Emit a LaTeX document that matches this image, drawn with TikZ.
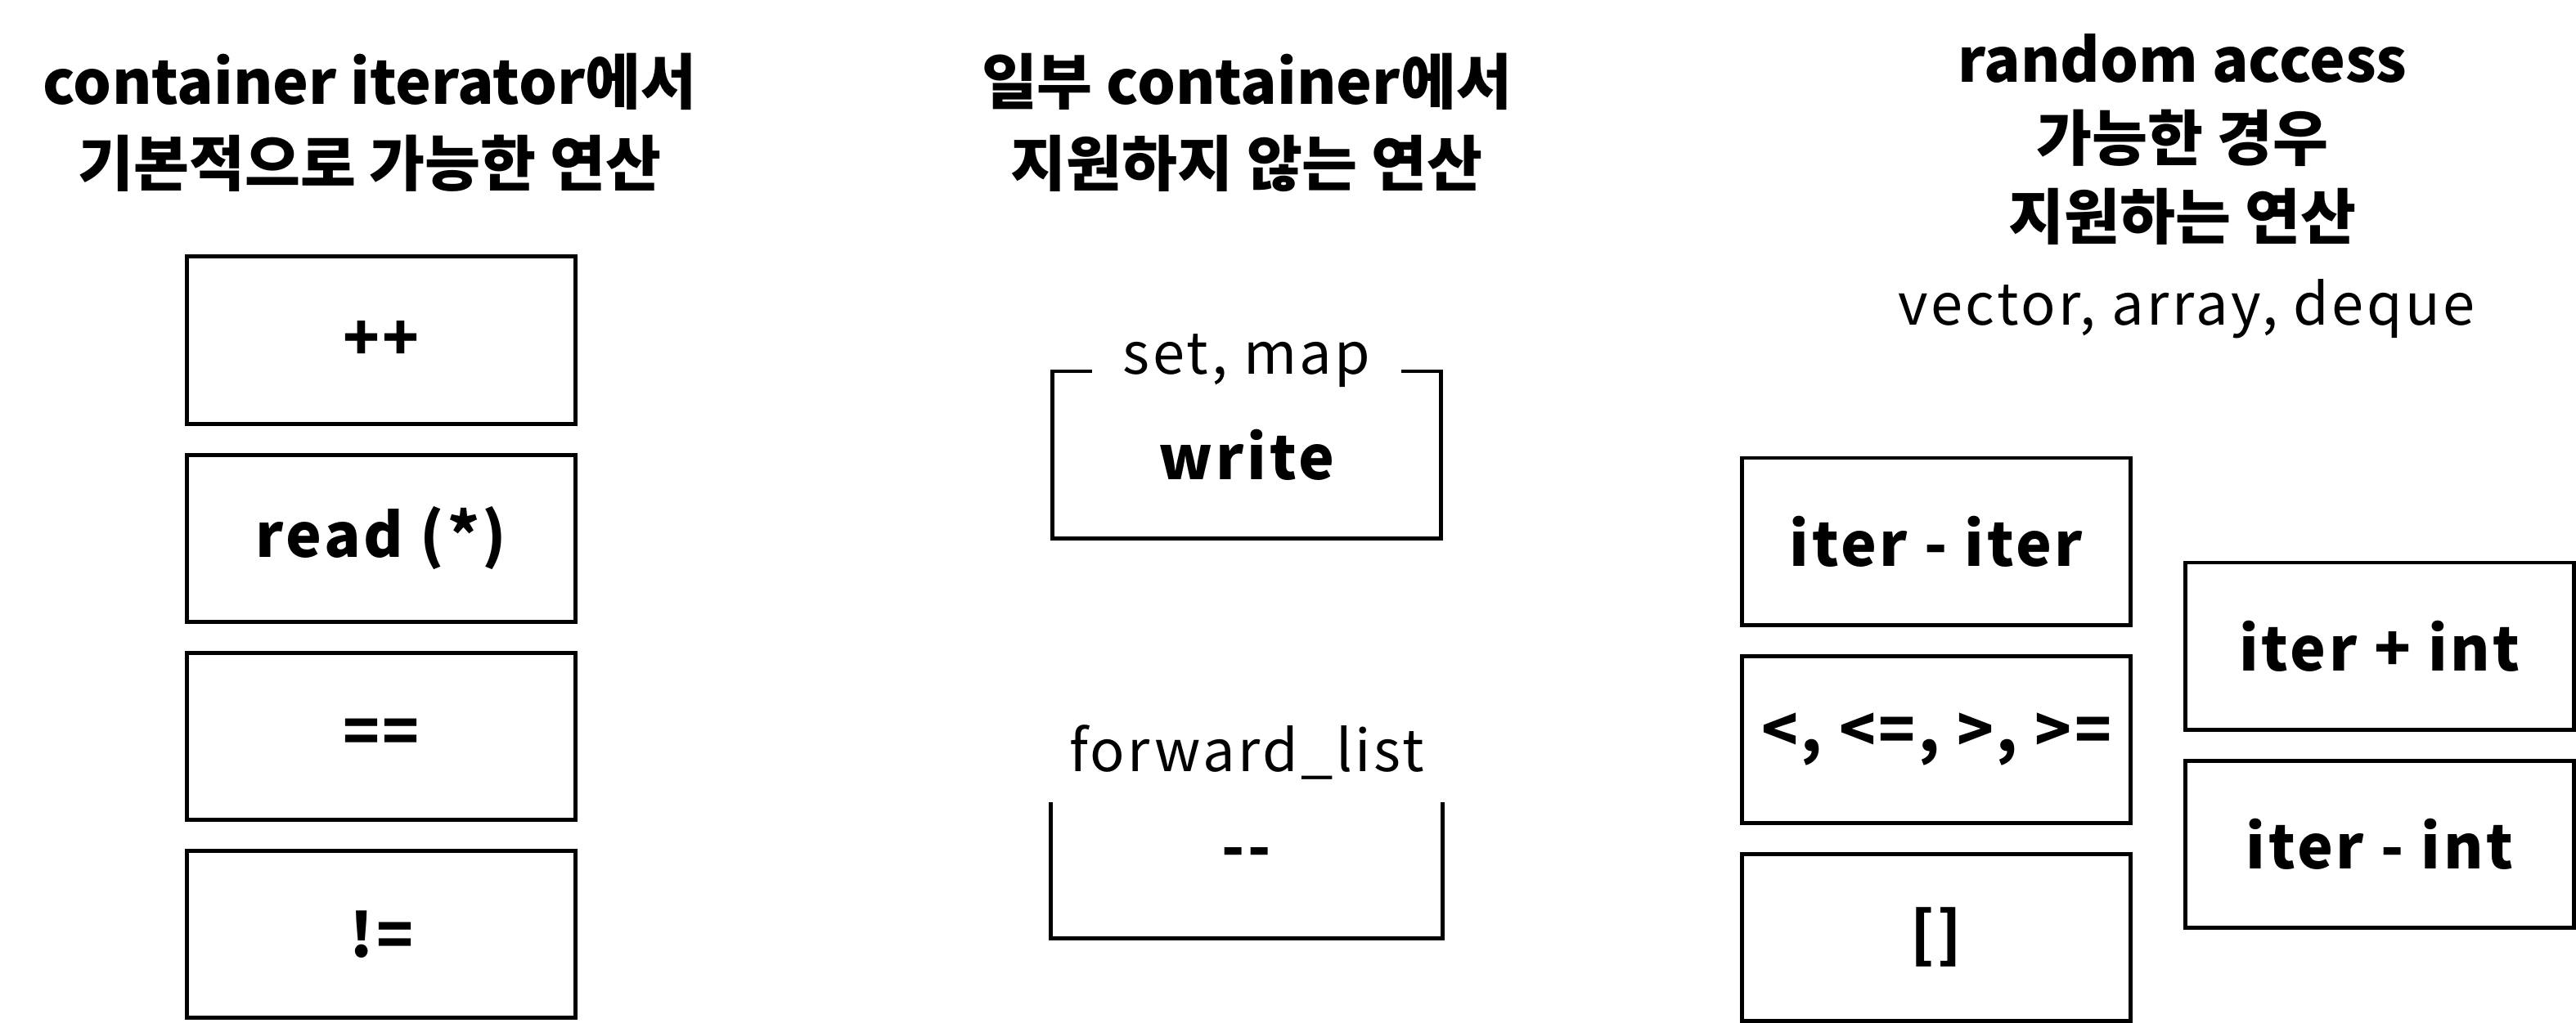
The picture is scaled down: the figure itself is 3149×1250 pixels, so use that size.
\documentclass[tikz,border=0pt]{standalone}
\usepackage{fontspec}
\setmainfont{Noto Sans CJK KR}
\newfontfamily\opfont[LetterSpace=5]{Noto Sans CJK KR}
\newfontfamily\tagfont[LetterSpace=5]{Noto Sans CJK KR}
\usetikzlibrary{positioning}
\tikzset{
	opbox/.style={draw, line width=1.4pt, minimum width=4.74cm, minimum height=2.04cm, inner sep=0pt},
	optext/.style={font=\opfont\bfseries\fontsize{21pt}{24pt}\selectfont},
	title/.style={align=center, font=\bfseries\fontsize{21pt}{28.5pt}\selectfont},
	tag/.style={font=\tagfont\fontsize{20pt}{24pt}\selectfont},
	frame/.style={line width=1.4pt}
}

\begin{document}
\begin{tikzpicture}[x=0.01cm, y=-0.01cm, node distance = 2.42cm]
	\useasboundingbox (0,0) rectangle (3149,1250);

	\node[title] (t1) at (452,150) {container iterator에서\\기본적으로 가능한 연산};
	\node[title] (t2) at (1524,150) {일부 container에서\\지원하지 않는 연산};
	\node[title, font=\bfseries\fontsize{21pt}{27.3pt}\selectfont] (t3) at (2668,170) {random access\\가능한 경우\\지원하는 연산};
	\node[tag] (vad) at (2673,378) {vector, array, deque};

	\node[opbox, optext] (inc) at (466,416) {++};
	\node[opbox, optext, below of = inc] (rd) {read (*)};
	\node[opbox, optext, below of = rd] (eq) {==};
	\node[opbox, optext, below of = eq] (ne) {!=};

	\node[opbox, optext] (wr) at (1524,556) {write};
	\node[tag, fill=white, inner xsep=0.38cm, inner ysep=0pt] (sm) at ([yshift=0.1cm]wr.north) {set, map};

	\node[opbox, draw=none, minimum height=1.61cm] (fl) at (1524,1064) {};
	\draw[frame] (fl.north west) -- (fl.south west) -- (fl.south east) -- (fl.north east);
	\node[optext] (dec) at ([yshift=0.15cm]fl.center) {-{}-};
	\node[tag] (fls) at (1524,920) {forward\_list};

	\node[opbox, optext] (sub) at (2367,662) {iter - iter};
	\node[opbox, optext, below of = sub] (cmp) {<, <=, >, >=};
	\node[opbox, optext, below of = cmp] (idx) {[]};
	\node[opbox, optext] (add) at (2909,790) {iter + int};
	\node[opbox, optext, below of = add] (mns) {iter - int};
\end{tikzpicture}
\end{document}
